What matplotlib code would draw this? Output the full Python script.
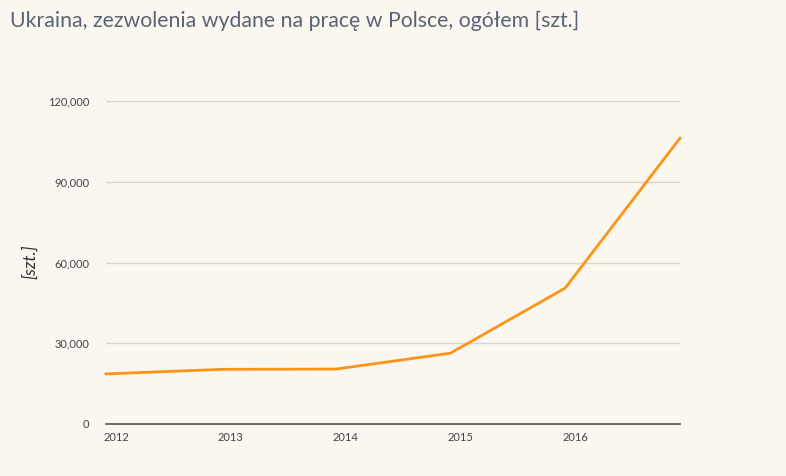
import matplotlib
matplotlib.use("Agg")
import matplotlib.pyplot as plt
import matplotlib.transforms as mtransforms
from matplotlib.ticker import FuncFormatter

title = "Ukraina, zezwolenia wydane na pracę w Polsce, ogółem [szt.]"
years = [2012, 2013, 2014, 2015, 2016, 2017]
permits = [18600, 20300, 20400, 26300, 50500, 106200]
tick_years = [2012, 2013, 2014, 2015, 2016]
y_ticks = [0, 30000, 60000, 90000, 120000]
y_label = "[szt.]"

BG = "#faf6f0"
plt.rcParams['font.family'] = ['Lato', 'DejaVu Sans']

fig = plt.figure(figsize=(7.86, 4.76), dpi=100, facecolor=BG)
W, H = 786, 476
left, right, bottom, top = 106, 680, 424, 101
ax = fig.add_axes([left / W, 1 - bottom / H, (right - left) / W, (bottom - top) / H])
ax.set_facecolor(BG)

ax.plot(years, permits, color="#ff9419", lw=2.0, clip_on=False, solid_joinstyle='miter', zorder=3)
ax.set_xlim(2012, 2017)
ax.set_ylim(0, 120000)
ax.set_yticks(y_ticks)
ax.yaxis.set_major_formatter(FuncFormatter(lambda v, p: f"{int(v):,}"))
ax.set_xticks(tick_years)
ax.set_xticklabels([str(y) for y in tick_years])
ax.grid(axis='y', color="#d9d6d2", lw=1)
ax.set_axisbelow(True)
for s in ['top', 'right', 'left']:
    ax.spines[s].set_visible(False)
ax.spines['bottom'].set_color("#555555")
ax.spines['bottom'].set_linewidth(1.2)
ax.tick_params(axis='both', length=0, labelsize=8, labelcolor="#444444")
ax.tick_params(axis='y', pad=12)
ax.tick_params(axis='x', pad=6)
offset = mtransforms.ScaledTranslation(10 / 100, 0, fig.dpi_scale_trans)
for lbl in ax.get_xticklabels():
    lbl.set_transform(lbl.get_transform() + offset)

fig.text(30 / W, 1 - 262 / H, y_label, rotation=90, style='italic', fontsize=12.5,
         color="#333333", ha='center', va='center')
fig.text(10 / W, 1 - 21 / H, title, fontsize=15.3, color="#5b6474", ha='left', va='center')

fig.savefig("out.png", dpi=100, facecolor=BG)
